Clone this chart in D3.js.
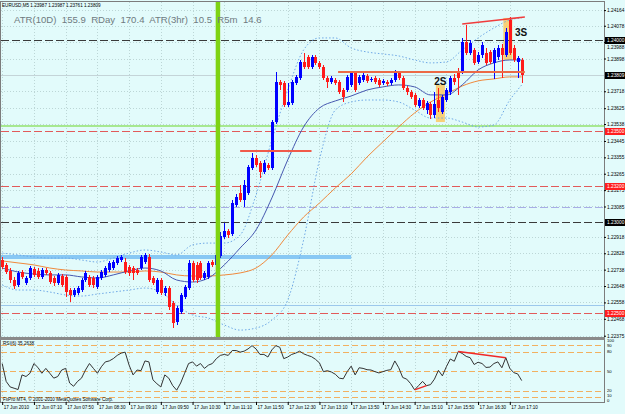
<!DOCTYPE html>
<html>
<head>
<meta charset="utf-8">
<script src="https://cdn.jsdelivr.net/npm/d3@7"></script>
<style>
  body { margin: 0; background: #fff; }
  svg { display: block; }
  text { font-family: "Liberation Sans", Arial, sans-serif; }
</style>
</head>
<body>
<svg id="chart" width="625" height="414"></svg>
<script>
// EURUSD M5, 17 Jun 2010, bar 0 = 06:30
const opens = [1.22791,1.22764,1.22731,1.22681,1.22654,1.22725,1.22665,1.22692,1.22742,1.22731,
  1.22698,1.22736,1.22720,1.22692,1.22665,1.22703,1.22698,1.22626,1.22599,1.22610,
  1.22626,1.22681,1.22698,1.22692,1.22643,1.22692,1.22709,1.22736,1.22747,1.22775,
  1.22791,1.22780,1.22753,1.22747,1.22736,1.22747,1.22780,1.22808,1.22692,1.22615,
  1.22681,1.22610,1.22637,1.22555,1.22450,1.22505,1.22588,1.22637,1.22775,1.22764,
  1.22775,1.22692,1.22698,1.22780,1.22764,1.22813,1.22917,1.22950,1.22934,1.23093,
  1.23159,1.23121,1.23159,1.23297,1.23352,1.23324,1.23275,1.23313,1.23297,1.23549,
  1.23769,1.23764,1.23643,1.23654,1.23764,1.23791,1.23879,1.23907,1.23852,1.23907,
  1.23874,1.23852,1.23791,1.23769,1.23780,1.23769,1.23725,1.23725,1.23753,1.23819,
  1.23764,1.23780,1.23802,1.23780,1.23791,1.23780,1.23764,1.23769,1.23764,1.23780,
  1.23819,1.23791,1.23736,1.23714,1.23698,1.23637,1.23670,1.23615,1.23648,1.23588,
  1.23670,1.23604,1.23670,1.23714,1.23791,1.23824,1.23824,1.23989,1.23929,1.23945,
  1.23879,1.23918,1.23929,1.23934,1.23874,1.23907,1.23956,1.23918,1.24110,1.23956,
  1.23879,1.23890];
const highs = [1.22808,1.22775,1.22747,1.22698,1.22731,1.22736,1.22703,1.22758,1.22753,1.22747,
  1.22747,1.22747,1.22731,1.22703,1.22720,1.22714,1.22709,1.22637,1.22637,1.22648,
  1.22692,1.22731,1.22709,1.22703,1.22709,1.22736,1.22758,1.22786,1.22791,1.22813,
  1.22819,1.22802,1.22764,1.22758,1.22747,1.22819,1.22829,1.22824,1.22703,1.22692,
  1.22692,1.22648,1.22648,1.22566,1.22538,1.22610,1.22654,1.22791,1.22786,1.22780,
  1.22786,1.22731,1.22786,1.22791,1.22846,1.22945,1.22994,1.22961,1.23121,1.23154,
  1.23203,1.23231,1.23313,1.23379,1.23368,1.23335,1.23341,1.23324,1.23560,1.23824,
  1.23780,1.23775,1.23764,1.23780,1.23808,1.23890,1.23929,1.23918,1.23918,1.23918,
  1.23885,1.23863,1.23802,1.23802,1.23791,1.23780,1.23736,1.23808,1.23830,1.23830,
  1.23808,1.23819,1.23813,1.23797,1.23802,1.23791,1.23786,1.23780,1.23791,1.23835,
  1.23830,1.23802,1.23747,1.23725,1.23709,1.23681,1.23681,1.23665,1.23659,1.23714,
  1.23736,1.23698,1.23736,1.23802,1.23813,1.23846,1.24011,1.24082,1.24000,1.23956,
  1.23934,1.23989,1.23956,1.23945,1.23956,1.23973,1.23978,1.24066,1.24126,1.23973,
  1.23912,1.23901];
const lows = [1.22742,1.22714,1.22665,1.22632,1.22643,1.22687,1.22654,1.22681,1.22698,1.22687,
  1.22687,1.22709,1.22659,1.22648,1.22654,1.22643,1.22588,1.22560,1.22588,1.22599,
  1.22615,1.22670,1.22643,1.22637,1.22632,1.22681,1.22698,1.22725,1.22736,1.22764,
  1.22780,1.22714,1.22703,1.22681,1.22709,1.22736,1.22769,1.22670,1.22654,1.22604,
  1.22599,1.22593,1.22516,1.22417,1.22434,1.22494,1.22577,1.22626,1.22670,1.22665,
  1.22681,1.22681,1.22687,1.22753,1.22753,1.22802,1.22906,1.22912,1.22923,1.23082,
  1.23110,1.23082,1.23148,1.23286,1.23302,1.23242,1.23264,1.23286,1.23286,1.23538,
  1.23725,1.23632,1.23632,1.23643,1.23753,1.23780,1.23841,1.23841,1.23841,1.23863,
  1.23841,1.23780,1.23736,1.23758,1.23753,1.23703,1.23659,1.23714,1.23742,1.23714,
  1.23753,1.23769,1.23764,1.23769,1.23758,1.23742,1.23753,1.23747,1.23753,1.23769,
  1.23780,1.23725,1.23698,1.23676,1.23632,1.23626,1.23615,1.23593,1.23566,1.23571,
  1.23604,1.23593,1.23659,1.23698,1.23753,1.23698,1.23813,1.23918,1.23918,1.23863,
  1.23868,1.23901,1.23863,1.23868,1.23786,1.23890,1.23791,1.23907,1.23918,1.23879,
  1.23791,1.23764];
const closes = [1.22753,1.22725,1.22681,1.22648,1.22720,1.22698,1.22692,1.22747,1.22709,1.22698,
  1.22736,1.22720,1.22670,1.22665,1.22709,1.22654,1.22615,1.22599,1.22626,1.22637,
  1.22681,1.22720,1.22654,1.22654,1.22698,1.22725,1.22747,1.22775,1.22780,1.22802,
  1.22808,1.22725,1.22720,1.22720,1.22720,1.22808,1.22819,1.22681,1.22665,1.22681,
  1.22610,1.22637,1.22533,1.22445,1.22527,1.22599,1.22643,1.22775,1.22681,1.22681,
  1.22692,1.22720,1.22775,1.22764,1.22819,1.22923,1.22950,1.22928,1.23104,1.23137,
  1.23121,1.23203,1.23302,1.23352,1.23313,1.23275,1.23324,1.23297,1.23549,1.23769,
  1.23753,1.23643,1.23659,1.23769,1.23797,1.23879,1.23852,1.23852,1.23907,1.23874,
  1.23852,1.23791,1.23769,1.23791,1.23764,1.23714,1.23687,1.23797,1.23819,1.23725,
  1.23797,1.23808,1.23775,1.23786,1.23769,1.23753,1.23775,1.23758,1.23780,1.23819,
  1.23791,1.23736,1.23714,1.23687,1.23643,1.23670,1.23626,1.23654,1.23588,1.23648,
  1.23626,1.23687,1.23725,1.23791,1.23769,1.23791,1.23989,1.23929,1.23984,1.23874,
  1.23918,1.23973,1.23874,1.23879,1.23945,1.23956,1.23918,1.24044,1.23929,1.23890,
  1.23901,1.23809];

const rsiValues = [61.5,34,25.5,23.5,21.5,44,41.5,46.5,61.5,55.5,
  46.5,54,46.5,39,41.5,51.5,54,31.5,26.5,34,
  39,51.5,61.5,54,46.5,56.5,64,65.5,69,74,
  77.5,79,59,44,51.5,50.5,65.5,64,36.5,30.5,
  25.5,44,39,27.5,20.5,31.5,46.5,61.5,64,57.5,
  61.5,54,59,61.5,69,74,75.5,74,81.5,81.5,
  79,80.5,84,89,84,75.5,75.5,71.5,82.5,89,
  86.5,69,71.5,75.5,77.5,80.5,76.5,74,72,68,
  62.5,49,50.5,48.5,45,39,38,49,57.5,44,
  55,54,52,51.5,49,47,49,51,52,65.5,
  55,40,37.5,30.5,21,27.5,34,27.5,29,37.5,
  51,42.5,56.5,68.5,65,80,77,72.5,70.5,60,
  63.5,61.5,55.5,56,61.5,64,55,70.5,54,47.5,
  45.5,35.2638];

// indicator lines, read every 4 bars
const indBars = [0,4,8,12,16,20,24,28,32,36,40,44,48,52,56,60,64,68,72,76,80,84,88,92,96,100,104,108,112,116,120,124,128,131];
const maFast = [1.22747,1.22725,1.22714,1.22709,1.22709,1.22698,1.22692,1.22709,1.22731,1.22747,1.22731,1.22681,1.22670,1.22692,
  1.22764,1.22857,1.22956,1.23132,1.23341,1.23522,1.23626,1.23665,1.23692,1.23725,1.23742,1.23753,1.23742,1.23698,1.23698,
  1.23753,1.23835,1.23874,1.23890,1.23890];
const maSlow = [1.22786,1.22775,1.22764,1.22747,1.22736,1.22731,1.22725,1.22725,1.22725,1.22731,1.22725,1.22709,1.22703,1.22703,
  1.22709,1.22720,1.22747,1.22819,1.22928,1.23027,1.23104,1.23187,1.23264,1.23357,1.23440,1.23522,1.23599,1.23659,1.23703,
  1.23747,1.23775,1.23786,1.23797,1.23797];
const bandUpper = [1.22829,1.22819,1.22808,1.22802,1.22802,1.22791,1.22780,1.22802,1.22829,1.22846,1.22835,1.22819,1.22874,1.22884,
  1.22884,1.22928,1.23148,1.23451,1.23725,1.23945,1.24011,1.24011,1.23956,1.23934,1.23923,1.23912,1.23890,1.23874,1.23879,
  1.23945,1.24011,1.24066,1.24110,1.24121];
const bandLower = [1.22654,1.22626,1.22626,1.22615,1.22599,1.22593,1.22604,1.22615,1.22626,1.22637,1.22615,1.22544,1.22489,1.22472,
  1.22434,1.22406,1.22417,1.22461,1.22571,1.22901,1.23341,1.23615,1.23659,1.23670,1.23670,1.23659,1.23615,1.23571,1.23571,
  1.23549,1.23522,1.23533,1.23670,1.23753];

// right-axis labels (the ones hidden under the level boxes are left out)
const priceTicks = [1.24164,1.24078,1.23988,1.23898,1.23718,1.23625,1.23538,1.23445,1.23355,1.23265,
  1.23175,1.23085,1.22918,1.22828,1.22738,1.22648,1.22558,1.22468,1.22375];
const timeBars = [0,8,16,24,32,40,48,56,64,72,80,88,96,104,112,120,128];
const timeLabels = ["17 Jun 2010","17 Jun 07:10","17 Jun 07:50","17 Jun 08:30","17 Jun 09:10","17 Jun 09:50",
  "17 Jun 10:30","17 Jun 11:10","17 Jun 11:50","17 Jun 12:30","17 Jun 13:10","17 Jun 13:50","17 Jun 14:30",
  "17 Jun 15:10","17 Jun 15:50","17 Jun 16:30","17 Jun 17:10"];

const blackLevels = [1.24000, 1.23000];
const redLevels = [1.23500, 1.23200, 1.22500];
const bidPrice = 1.23809;
const greenLevel = 1.23533;
const lavenderLevel = 1.23082;
const skyLevel = 1.22544;
const supportZone = { price: 1.22808, from: 0, to: 88 };
const resistLines = [{ price: 1.23390, from: 60, to: 78 }, { price: 1.23824, from: 84.7, to: 131.8 }];
const trendLine = [[116, 1.24088], [131.8, 1.24126]];
const sessionBar = 54.4;
const setups = [
  { label: "2S", from: 110, to: 111, top: 1.23753, bottom: 1.23549, textBar: 110.5, textPrice: 1.23750, anchor: "middle" },
  { label: "3S", from: 127, to: 128, top: 1.24121, bottom: 1.23890, textBar: 129.3, textPrice: 1.24020, anchor: "start" }
];
const rsiLevels = [90, 80, 50, 20, 10];
const rsiAxisLabels = [100, 90, 80, 50, 20, 10, 0];
const rsiDivergences = [[104, 107], [115, 127]];

const svg = d3.select("#chart");
const plot = { left: 1, right: 604, top: 2, bottom: 337 };
const rsiBox = { top: 340, bottom: 402 };

const x = d3.scaleLinear().domain([0, 131]).range([2.2, 521.7]);
const y = d3.scaleLinear().domain([1.22368, 1.24203]).range([337, 3]);
const yr = d3.scaleLinear().domain([0, 100]).range([403.5, 338.5]);

svg.append("rect").attr("width", 625).attr("height", 414).attr("fill", "#e2fbfb");

const defs = svg.append("defs");
defs.append("clipPath").attr("id", "main-clip").append("rect")
  .attr("x", plot.left).attr("y", plot.top).attr("width", plot.right - plot.left).attr("height", plot.bottom - plot.top);
defs.append("clipPath").attr("id", "rsi-clip").append("rect")
  .attr("x", plot.left).attr("y", rsiBox.top).attr("width", plot.right - plot.left).attr("height", rsiBox.bottom - rsiBox.top);

// grid
const grid = svg.append("g").attr("stroke", "#bcd6d6").attr("stroke-dasharray", "1,2").attr("shape-rendering", "crispEdges");
grid.selectAll(".gy").data(priceTicks).enter().append("line")
  .attr("x1", plot.left).attr("x2", plot.right).attr("y1", d => Math.round(y(d)) + 0.5).attr("y2", d => Math.round(y(d)) + 0.5);
grid.selectAll(".gx").data(timeBars).enter().append("line")
  .attr("x1", d => Math.round(x(d)) + 0.5).attr("x2", d => Math.round(x(d)) + 0.5).attr("y1", plot.top).attr("y2", rsiBox.bottom);

const main = svg.append("g").attr("clip-path", "url(#main-clip)");

// setup highlights
main.selectAll(".hl").data(setups).enter().append("rect")
  .attr("x", d => x(d.from) - 2.5).attr("width", d => x(d.to) - x(d.from) + 5)
  .attr("y", d => y(d.top)).attr("height", d => y(d.bottom) - y(d.top))
  .attr("fill", "#fcc860").attr("opacity", 0.85);

// horizontal levels
const hline = (p, color, dash, width) => main.append("line")
  .attr("x1", plot.left).attr("x2", plot.right)
  .attr("y1", Math.round(y(p)) + 0.5).attr("y2", Math.round(y(p)) + 0.5)
  .attr("stroke", color).attr("stroke-width", width).attr("stroke-dasharray", dash)
  .attr("shape-rendering", "crispEdges");
hline(greenLevel, "#a6e890", null, 2);
hline(skyLevel, "#9cc8ec", null, 1);
hline(lavenderLevel, "#a8aee6", "8,3", 1);
blackLevels.forEach(p => hline(p, "#3a3a3a", "8,3", 1));
redLevels.forEach(p => hline(p, "#e25a5a", "8,3", 1));
hline(bidPrice, "#c4d4d8", null, 1);

main.append("line")
  .attr("x1", x(supportZone.from) - 2).attr("x2", x(supportZone.to))
  .attr("y1", y(supportZone.price)).attr("y2", y(supportZone.price))
  .attr("stroke", "#88c8f4").attr("stroke-width", 4);

// indicators
const indLine = (vals) => d3.line().curve(d3.curveMonotoneX)
  .x((d, i) => x(indBars[i])).y(d => y(d))(vals);
main.append("path").attr("d", indLine(bandUpper)).attr("fill", "none")
  .attr("stroke", "#6ea8e6").attr("stroke-width", 1).attr("stroke-dasharray", "1.5,2");
main.append("path").attr("d", indLine(bandLower)).attr("fill", "none")
  .attr("stroke", "#6ea8e6").attr("stroke-width", 1).attr("stroke-dasharray", "1.5,2");
main.append("path").attr("d", indLine(maSlow)).attr("fill", "none")
  .attr("stroke", "#f0893c").attr("stroke-width", 1);
main.append("path").attr("d", indLine(maFast)).attr("fill", "none")
  .attr("stroke", "#4658b0").attr("stroke-width", 1);

// candles
const bars = d3.range(closes.length).map(i => ({ i, o: opens[i], h: highs[i], l: lows[i], c: closes[i] }));
const candle = main.append("g").attr("shape-rendering", "crispEdges").selectAll("g")
  .data(bars).enter().append("g");
const colorOf = d => d.c >= d.o ? "#0000ff" : "#ff1a1a";
candle.append("line")
  .attr("x1", d => Math.round(x(d.i)) + 0.5).attr("x2", d => Math.round(x(d.i)) + 0.5)
  .attr("y1", d => y(d.h)).attr("y2", d => y(d.l)).attr("stroke", colorOf);
candle.append("rect")
  .attr("x", d => Math.round(x(d.i)) - 1).attr("width", 3)
  .attr("y", d => y(Math.max(d.o, d.c)))
  .attr("height", d => Math.max(1, Math.abs(y(d.o) - y(d.c))))
  .attr("fill", colorOf);

// drawn lines
resistLines.forEach((r, k) => main.append("line")
  .attr("x1", x(r.from)).attr("x2", x(r.to)).attr("y1", y(r.price)).attr("y2", y(r.price))
  .attr("stroke", k === 0 ? "#f05a4a" : "#ec6a46").attr("stroke-width", 2));
main.append("line")
  .attr("x1", x(trendLine[0][0])).attr("y1", y(trendLine[0][1]))
  .attr("x2", x(trendLine[1][0])).attr("y2", y(trendLine[1][1]))
  .attr("stroke", "#f03c3c").attr("stroke-width", 1.5);

main.append("line")
  .attr("x1", x(sessionBar)).attr("x2", x(sessionBar)).attr("y1", plot.top).attr("y2", plot.bottom)
  .attr("stroke", "#7ed313").attr("stroke-width", 4.5);

main.selectAll(".setup-label").data(setups).enter().append("text")
  .attr("x", d => x(d.textBar)).attr("y", d => y(d.textPrice))
  .attr("text-anchor", d => d.anchor)
  .attr("font-size", 10).attr("font-weight", "bold").attr("fill", "#111").text(d => d.label);

// texts in main window
svg.append("text").attr("x", 2).attr("y", 7).attr("font-size", 4.6).attr("fill", "#000")
  .text("EURUSD,M5  1.23987 1.23987 1.23761 1.23809");
svg.append("text").attr("x", 14).attr("y", 23).attr("font-size", 9.6).attr("fill", "#6f7a80")
  .attr("xml:space", "preserve")
  .text("ATR(10D)  155.9  RDay  170.4  ATR(3hr)  10.5  R5m  14.6");

// RSI window
const rsiG = svg.append("g").attr("clip-path", "url(#rsi-clip)");
rsiG.selectAll(".lvl").data(rsiLevels).enter().append("line")
  .attr("x1", plot.left).attr("x2", plot.right)
  .attr("y1", d => Math.round(yr(d)) + 0.5).attr("y2", d => Math.round(yr(d)) + 0.5)
  .attr("stroke", "#f2b060").attr("stroke-dasharray", "6,3").attr("shape-rendering", "crispEdges");
rsiG.append("path")
  .attr("d", d3.line().x((d, i) => x(i)).y(d => yr(d))(rsiValues))
  .attr("fill", "none").attr("stroke", "#333").attr("stroke-width", 1);
rsiG.selectAll(".div").data(rsiDivergences).enter().append("line")
  .attr("x1", d => x(d[0])).attr("y1", d => yr(rsiValues[d[0]]))
  .attr("x2", d => x(d[1])).attr("y2", d => yr(rsiValues[d[1]]))
  .attr("stroke", "#f02828").attr("stroke-width", 1.5);
svg.append("text").attr("x", 3).attr("y", 345).attr("font-size", 4.6).attr("fill", "#000")
  .text("RSI(6) " + rsiValues[rsiValues.length - 1].toFixed(4));
svg.append("text").attr("x", 3).attr("y", 400.5).attr("font-size", 4.6).attr("fill", "#000")
  .text("FxPro MT4, © 2001-2010 MetaQuotes Software Corp.");

// frames
const frame = svg.append("g").attr("fill", "none").attr("shape-rendering", "crispEdges");
frame.append("rect").attr("x", 0.5).attr("y", 1.5).attr("width", plot.right).attr("height", rsiBox.bottom - 1)
  .attr("stroke", "#7c7c7c");
frame.append("rect").attr("x", 0).attr("y", 337).attr("width", plot.right + 1).attr("height", 3)
  .attr("fill", "#8a8a8a").attr("stroke", "none");

// price axis
const yAxis = svg.append("g").attr("transform", `translate(${plot.right},0)`)
  .call(d3.axisRight(y).tickValues(priceTicks).tickSize(2).tickFormat(d3.format(".5f")));
yAxis.select(".domain").remove();
yAxis.selectAll("text").attr("font-size", 4.8).attr("x", 3).attr("font-family", "Liberation Sans, Arial, sans-serif");
// the label just under the 1.24000 box peeks out below it, as in MT4
yAxis.selectAll(".tick").filter(d => d === 1.23988).select("text").attr("dy", "1.4em");

const boxes = blackLevels.map(p => ({ p, fill: "#000" }))
  .concat(redLevels.map(p => ({ p, fill: "#ff1e1e" })))
  .concat([{ p: bidPrice, fill: "#000" }]);
const boxG = svg.append("g").selectAll("g").data(boxes).enter().append("g");
boxG.append("rect").attr("x", plot.right + 1).attr("width", 625 - plot.right - 1)
  .attr("y", d => Math.round(y(d.p)) - 3).attr("height", 7).attr("fill", d => d.fill);
boxG.append("text").attr("x", plot.right + 3).attr("y", d => Math.round(y(d.p)) + 2)
  .attr("font-size", 4.8).attr("fill", "#fff").text(d => d.p.toFixed(5));

// RSI axis labels, pushed apart from the bottom up so they do not collide
const rsiLabelPos = rsiAxisLabels.map(v => ({ v, yy: Math.min(401.5, Math.max(342.5, yr(v) + 1.5)) }))
  .sort((a, b) => b.yy - a.yy);
rsiLabelPos.forEach((d, k) => { if (k > 0) d.yy = Math.min(d.yy, rsiLabelPos[k - 1].yy - 4.2); });
svg.append("g").selectAll("text").data(rsiLabelPos).enter().append("text")
  .attr("x", plot.right + 3).attr("y", d => d.yy)
  .attr("font-size", 4.2).attr("fill", "#000").text(d => d.v);

// time axis
const xAxis = svg.append("g").attr("transform", `translate(0,${rsiBox.bottom})`)
  .call(d3.axisBottom(x).tickValues(timeBars).tickSize(3).tickFormat((d, i) => timeLabels[i]));
xAxis.select(".domain").remove();
xAxis.selectAll("text").attr("font-size", 4.6).attr("text-anchor", "start").attr("dx", 1).attr("y", 4)
  .attr("font-family", "Liberation Sans, Arial, sans-serif");
</script>
</body>
</html>
